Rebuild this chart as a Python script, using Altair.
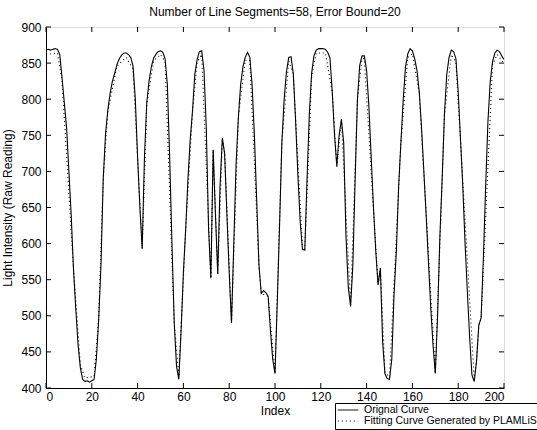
import altair as alt
import pandas as pd

# ---- data ----
orig_y = [868, 869, 868, 869, 870, 869, 862, 830, 795, 760,
          700, 640, 565, 510, 460, 428, 412, 409, 410, 408,
          410, 412, 440, 495, 570, 690, 752, 785, 808, 825,
          836, 848, 856, 861, 864, 864, 862, 858, 846, 800,
          720, 650, 593, 720, 795, 825, 845, 857, 862, 866,
          867, 865, 856, 820, 720, 600, 490, 430, 412, 480,
          560, 620, 690, 745, 785, 835, 855, 866, 867, 840,
          760, 620, 552, 730, 640, 558, 680, 746, 725, 640,
          560, 490, 600, 710, 775, 820, 845, 858, 865, 858,
          820, 750, 660, 570, 531, 535, 532, 527, 480, 440,
          420, 520, 626, 740, 800, 838, 858, 859, 835, 770,
          695, 630, 592, 591, 690, 780, 836, 860, 868, 870,
          870, 870, 869, 865, 857, 810, 750, 707, 750, 772,
          740, 610, 540, 513, 570, 690, 800, 847, 860, 860,
          840, 790, 720, 650, 590, 543, 566, 464, 420, 413,
          412, 440, 530, 590, 680, 741, 800, 845, 863, 870,
          867, 856, 840, 810, 760, 700, 640, 575, 512, 460,
          420, 500, 610, 690, 780, 834, 858, 868, 866, 856,
          810, 745, 680, 600, 533, 470, 418, 409, 437, 487,
          497, 580, 680, 770, 825, 852, 864, 868, 866, 860,
          855]
orig_x = list(range(len(orig_y)))

fit_x = [0, 5, 7, 12, 15, 17, 21, 23, 25, 27, 31, 35, 38, 42, 44, 47, 50, 52,
         56, 58, 61, 64, 66, 68, 72, 73, 75, 77, 78, 81, 84, 87, 89, 93, 94, 97,
         100, 103, 106, 108, 112, 113, 116, 118, 122, 125, 127, 129, 133, 136,
         138, 139, 145, 146, 148, 150, 155, 158, 160, 163, 170, 174, 177, 179,
         187, 188, 189, 190, 195, 197, 200]
fit_y = [862, 864, 826, 565, 432, 414, 416, 495, 690, 783, 846, 858, 842, 593,
         793, 853, 862, 852, 490, 416, 620, 783, 851, 862, 552, 730, 558, 746,
         725, 490, 775, 854, 854, 570, 531, 527, 420, 740, 853, 835, 592, 591,
         832, 864, 864, 810, 707, 772, 513, 800, 856, 856, 543, 566, 422, 415,
         741, 858, 863, 808, 420, 778, 862, 852, 412, 437, 487, 497, 848, 862,
         850]

x_ticks = [0, 20, 40, 60, 80, 100, 120, 140, 160, 180, 200]
y_ticks = [400, 450, 500, 550, 600, 650, 700, 750, 800, 850, 900]

series_names = ["Orignal Curve", "Fitting Curve Generated by PLAMLiS"]

W, H = 458, 361
FONT = "Liberation Sans"

df = pd.concat([
    pd.DataFrame({"Index": orig_x, "Value": orig_y, "series": series_names[0]}),
    pd.DataFrame({"Index": fit_x, "Value": fit_y, "series": series_names[1]}),
])

xs = alt.Scale(domain=[0, 200], nice=False, zero=False)
ys = alt.Scale(domain=[400, 900], nice=False, zero=False)

x_axis = alt.Axis(values=x_ticks, title="Index", ticks=False, grid=False,
                  labelPadding=3, titlePadding=3, domainColor="black",
                  labelOverlap=False, labelFontSize=12,
                  titleFontWeight="normal", titleFontSize=12,
                  labelFont=FONT, titleFont=FONT,
                  labelColor="black", titleColor="black")
y_axis = alt.Axis(values=y_ticks, title="Light Intensity (Raw Reading)",
                  ticks=False, grid=False, labelPadding=5, titlePadding=6,
                  domainColor="black", labelOverlap=False,
                  labelFontSize=12, titleFontWeight="normal",
                  titleFontSize=12, labelFont=FONT, titleFont=FONT,
                  labelColor="black", titleColor="black")

lines = alt.Chart(df).mark_line(color="black", strokeWidth=1.1, clip=True).encode(
    x=alt.X("Index:Q", scale=xs, axis=x_axis, title="Index"),
    y=alt.Y("Value:Q", scale=ys, axis=y_axis, title="Light Intensity (Raw Reading)"),
    strokeDash=alt.StrokeDash(
        "series:N",
        scale=alt.Scale(domain=series_names, range=[[1, 0], [1, 3]]),
        sort=series_names,
        legend=alt.Legend(title=None, orient="none", legendX=289, legendY=376,
                          symbolType="stroke", symbolSize=420, symbolStrokeWidth=1,
                          symbolStrokeColor="black", clipHeight=10,
                          labelFontSize=10.5, labelFont=FONT,
                          labelColor="black", strokeColor="black", fillColor="white",
                          padding=2, rowPadding=0, labelOffset=5, labelLimit=300),
    ),
    order=alt.Order("Index:Q"),
)

xt = pd.DataFrame({"t": x_ticks})
yt = pd.DataFrame({"t": y_ticks})

xb = alt.Chart(xt).mark_rule(color="black", strokeWidth=1).encode(
    x=alt.X("t:Q", scale=xs, axis=x_axis, title="Index"),
    y=alt.value(H), y2=alt.value(H - 5))
xtop = alt.Chart(xt).mark_rule(color="black", strokeWidth=1).encode(
    x=alt.X("t:Q", scale=xs, axis=x_axis, title="Index"),
    y=alt.value(0), y2=alt.value(5))
yl = alt.Chart(yt).mark_rule(color="black", strokeWidth=1).encode(
    y=alt.Y("t:Q", scale=ys, axis=y_axis, title="Light Intensity (Raw Reading)"),
    x=alt.value(0), x2=alt.value(5))
yr = alt.Chart(yt).mark_rule(color="black", strokeWidth=1).encode(
    y=alt.Y("t:Q", scale=ys, axis=y_axis, title="Light Intensity (Raw Reading)"),
    x=alt.value(W - 5), x2=alt.value(W))

chart = alt.layer(lines, xb, xtop, yl, yr).properties(
    width=W, height=H,
    title=alt.Title("Number of Line Segments=58, Error Bound=20",
                    fontSize=12, fontWeight="normal", font=FONT,
                    color="black", offset=2),
    autosize=alt.AutoSizeParams(type="none"),
    padding={"left": 46, "top": 27, "right": 33, "bottom": 42},
).configure_view(stroke="black", strokeWidth=1).configure(background="white")

chart.save("out.html", embed_options={"renderer": "svg", "actions": False})
